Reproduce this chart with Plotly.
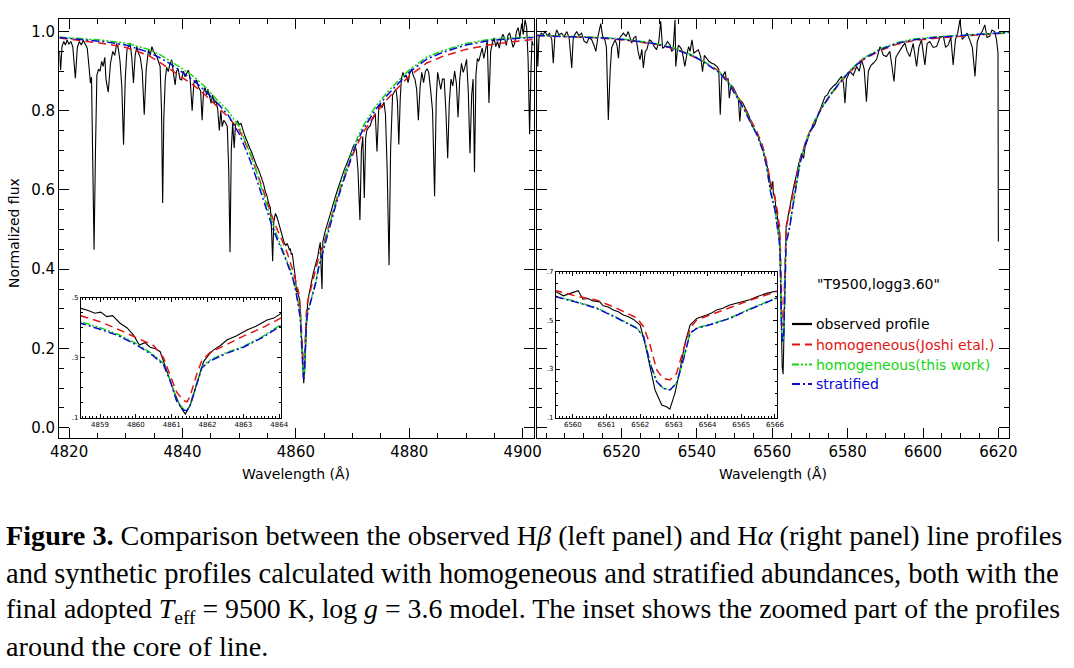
import plotly.graph_objects as go

# ---------------------------------------------------------------------------
# data (wavelength in Angstrom, normalized flux)
# ---------------------------------------------------------------------------

# H-beta, observed profile
hb_observed = [
    (4818.30, 0.950), (4818.50, 0.903), (4818.75, 0.962), (4819.05, 0.975),
    (4819.35, 0.966), (4819.65, 0.979), (4819.95, 0.968), (4820.30, 0.975),
    (4820.65, 0.962), (4821.10, 0.882), (4821.45, 0.960), (4821.80, 0.975),
    (4822.15, 0.966), (4822.50, 0.978), (4822.85, 0.968), (4823.20, 0.958),
    (4823.55, 0.905), (4823.75, 0.870), (4823.95, 0.885), (4824.15, 0.700),
    (4824.40, 0.449), (4824.65, 0.700), (4824.90, 0.890), (4825.20, 0.905),
    (4825.45, 0.900), (4825.75, 0.925), (4826.00, 0.912), (4826.30, 0.935),
    (4826.50, 0.880), (4826.90, 0.847), (4827.30, 0.920), (4827.70, 0.950),
    (4828.05, 0.940), (4828.40, 0.970), (4828.70, 0.955), (4828.98, 0.925),
    (4829.30, 0.860), (4829.60, 0.714), (4829.90, 0.880), (4830.20, 0.954),
    (4830.50, 0.962), (4830.75, 0.971), (4831.05, 0.935), (4831.35, 0.870),
    (4831.65, 0.940), (4831.95, 0.962), (4832.25, 0.945), (4832.55, 0.935),
    (4832.90, 0.900), (4833.25, 0.790), (4833.60, 0.905), (4834.00, 0.954),
    (4834.30, 0.940), (4834.60, 0.962), (4834.95, 0.948), (4835.45, 0.937),
    (4835.75, 0.925), (4836.05, 0.912), (4836.30, 0.800), (4836.50, 0.567),
    (4836.70, 0.780), (4836.95, 0.877), (4837.20, 0.910), (4837.50, 0.899),
    (4837.80, 0.920), (4838.10, 0.929), (4838.40, 0.895), (4838.70, 0.865),
    (4838.95, 0.900), (4839.25, 0.905), (4839.55, 0.880), (4839.85, 0.878),
    (4840.15, 0.900), (4840.45, 0.886), (4840.75, 0.895), (4841.05, 0.903),
    (4841.35, 0.880), (4841.70, 0.800), (4842.00, 0.870), (4842.50, 0.878),
    (4842.80, 0.860), (4843.20, 0.850), (4843.46, 0.776), (4843.70, 0.845),
    (4844.00, 0.860), (4844.25, 0.840), (4844.50, 0.855), (4844.80, 0.830),
    (4845.05, 0.819), (4845.30, 0.840), (4845.60, 0.820), (4845.90, 0.825),
    (4846.20, 0.805), (4846.50, 0.750), (4846.75, 0.800), (4847.00, 0.760),
    (4847.28, 0.776), (4847.60, 0.770), (4847.90, 0.760), (4848.15, 0.650),
    (4848.38, 0.443), (4848.60, 0.700), (4848.85, 0.770), (4849.11, 0.706),
    (4849.35, 0.765), (4849.70, 0.775), (4850.00, 0.765), (4850.32, 0.768),
    (4850.65, 0.748), (4850.95, 0.738), (4851.25, 0.728), (4851.53, 0.716),
    (4851.85, 0.706), (4852.15, 0.697), (4852.45, 0.684), (4852.75, 0.672),
    (4853.05, 0.662), (4853.40, 0.652), (4853.70, 0.640), (4853.97, 0.630),
    (4854.30, 0.615), (4854.60, 0.596), (4854.90, 0.585), (4855.18, 0.567),
    (4855.50, 0.555), (4855.70, 0.500), (4855.90, 0.420), (4856.10, 0.520),
    (4856.40, 0.541), (4856.70, 0.530), (4857.00, 0.515), (4857.35, 0.495),
    (4857.62, 0.480), (4857.90, 0.468), (4858.22, 0.460), (4858.46, 0.465),
    (4858.65, 0.458), (4858.86, 0.448), (4859.02, 0.452), (4859.19, 0.437),
    (4859.35, 0.440), (4859.56, 0.415), (4859.75, 0.400), (4859.93, 0.376),
    (4860.10, 0.342), (4860.25, 0.350), (4860.40, 0.335), (4860.55, 0.330),
    (4860.68, 0.320), (4860.86, 0.259), (4861.05, 0.192), (4861.24, 0.137),
    (4861.38, 0.112), (4861.52, 0.142), (4861.70, 0.215), (4861.89, 0.287),
    (4862.05, 0.312), (4862.17, 0.326), (4862.35, 0.340), (4862.54, 0.359),
    (4862.80, 0.372), (4863.10, 0.392), (4863.35, 0.405), (4863.66, 0.426),
    (4863.85, 0.432), (4864.03, 0.448), (4864.30, 0.468), (4864.45, 0.400),
    (4864.60, 0.350), (4864.75, 0.470), (4864.90, 0.482), (4865.20, 0.498),
    (4865.50, 0.512), (4865.80, 0.528), (4866.12, 0.545), (4866.45, 0.560),
    (4866.72, 0.574), (4867.00, 0.585), (4867.33, 0.600), (4867.65, 0.615),
    (4867.95, 0.628), (4868.25, 0.640), (4868.55, 0.652), (4868.85, 0.662),
    (4869.15, 0.672), (4869.45, 0.683), (4869.75, 0.695), (4870.05, 0.708),
    (4870.35, 0.716), (4870.67, 0.700), (4870.95, 0.650), (4871.29, 0.524),
    (4871.55, 0.700), (4871.80, 0.735), (4872.06, 0.580), (4872.30, 0.730),
    (4872.49, 0.750), (4872.80, 0.758), (4873.10, 0.762), (4873.40, 0.776),
    (4873.70, 0.782), (4874.00, 0.793), (4874.30, 0.697), (4874.62, 0.810),
    (4874.90, 0.815), (4875.20, 0.808), (4875.53, 0.822), (4875.80, 0.790),
    (4876.10, 0.650), (4876.43, 0.410), (4876.70, 0.700), (4877.05, 0.840),
    (4877.35, 0.848), (4877.65, 0.855), (4877.90, 0.825), (4878.15, 0.715),
    (4878.40, 0.830), (4878.60, 0.880), (4878.87, 0.897), (4879.15, 0.885),
    (4879.45, 0.890), (4879.79, 0.871), (4880.10, 0.895), (4880.40, 0.906),
    (4880.69, 0.889), (4881.00, 0.880), (4881.30, 0.854), (4881.60, 0.776),
    (4881.90, 0.860), (4882.20, 0.897), (4882.52, 0.871), (4882.85, 0.900),
    (4883.15, 0.906), (4883.42, 0.897), (4883.75, 0.854), (4884.10, 0.800),
    (4884.46, 0.584), (4884.75, 0.830), (4885.00, 0.897), (4885.24, 0.880),
    (4885.55, 0.854), (4885.85, 0.880), (4886.15, 0.880), (4886.45, 0.800),
    (4886.77, 0.680), (4887.05, 0.820), (4887.35, 0.880), (4887.67, 0.863),
    (4888.00, 0.900), (4888.30, 0.870), (4888.59, 0.784), (4888.90, 0.880),
    (4889.20, 0.920), (4889.50, 0.897), (4889.80, 0.910), (4890.10, 0.930),
    (4890.40, 0.850), (4890.70, 0.693), (4891.00, 0.840), (4891.25, 0.880),
    (4891.50, 0.645), (4891.75, 0.890), (4892.00, 0.932), (4892.24, 0.925),
    (4892.55, 0.945), (4892.85, 0.958), (4893.14, 0.932), (4893.45, 0.960),
    (4893.75, 0.976), (4894.05, 0.820), (4894.35, 0.950), (4894.65, 0.971),
    (4894.95, 0.984), (4895.25, 0.962), (4895.55, 0.975), (4895.87, 0.958),
    (4896.15, 0.980), (4896.50, 0.993), (4896.79, 0.984), (4897.10, 0.965),
    (4897.40, 0.990), (4897.69, 0.997), (4898.00, 0.980), (4898.30, 0.960),
    (4898.60, 0.971), (4898.90, 1.000), (4899.20, 1.010), (4899.50, 0.985),
    (4899.82, 1.020), (4900.10, 0.993), (4900.42, 1.030), (4900.70, 1.010),
    (4900.95, 0.930), (4901.22, 0.741), (4901.45, 0.900), (4901.64, 0.976),
    (4901.90, 0.965),
]

# H-beta, synthetic profiles
hb_model_wl = [4818.3, 4822, 4826, 4830, 4834, 4836, 4838, 4840, 4842, 4844,
               4846, 4848, 4850, 4851, 4852, 4853, 4854, 4855, 4856, 4857,
               4857.5, 4858.5, 4859.0, 4859.5, 4860.0, 4860.3, 4860.5,
               4860.77, 4860.96, 4861.14, 4861.33, 4861.43, 4861.51, 4861.70,
               4861.84, 4862.07, 4862.5, 4863.0, 4863.5, 4864.03, 4865, 4866,
               4867, 4868, 4869, 4870, 4871, 4872, 4874, 4876, 4878, 4880,
               4883, 4886, 4890, 4894, 4898, 4901.9]
hb_joshi = [0.984, 0.978, 0.970, 0.960, 0.940, 0.922, 0.902, 0.884, 0.864,
            0.840, 0.812, 0.785, 0.752, 0.722, 0.690, 0.650, 0.608, 0.565,
            0.525, 0.490, 0.475, 0.440, 0.420, 0.395, 0.368, 0.352, 0.340,
            0.300, 0.240, 0.185, 0.157, 0.153, 0.170, 0.245, 0.290, 0.318,
            0.342, 0.372, 0.398, 0.431, 0.470, 0.520, 0.567, 0.610, 0.650,
            0.688, 0.720, 0.748, 0.792, 0.828, 0.858, 0.888, 0.920, 0.938,
            0.955, 0.966, 0.974, 0.980]
hb_this_work = [0.986, 0.983, 0.978, 0.971, 0.955, 0.942, 0.925, 0.906, 0.886,
                0.860, 0.829, 0.800, 0.760, 0.727, 0.690, 0.648, 0.603, 0.556,
                0.510, 0.472, 0.455, 0.420, 0.400, 0.378, 0.348, 0.325, 0.309,
                0.281, 0.226, 0.159, 0.128, 0.127, 0.142, 0.215, 0.270, 0.292,
                0.316, 0.337, 0.368, 0.409, 0.462, 0.520, 0.570, 0.617, 0.660,
                0.700, 0.737, 0.765, 0.810, 0.845, 0.875, 0.903, 0.935, 0.952,
                0.970, 0.980, 0.984, 0.986]
hb_stratified = [0.985, 0.981, 0.975, 0.966, 0.948, 0.934, 0.917, 0.897,
                 0.876, 0.850, 0.822, 0.790, 0.742, 0.708, 0.672, 0.630,
                 0.586, 0.542, 0.500, 0.465, 0.450, 0.414, 0.395, 0.374,
                 0.344, 0.321, 0.305, 0.277, 0.222, 0.155, 0.125, 0.124,
                 0.139, 0.212, 0.266, 0.289, 0.313, 0.335, 0.365, 0.405,
                 0.455, 0.510, 0.560, 0.605, 0.647, 0.693, 0.728, 0.757,
                 0.802, 0.838, 0.868, 0.897, 0.930, 0.948, 0.966, 0.977,
                 0.982, 0.985]

# H-alpha, observed profile
ha_observed = [
    (6497.5, 0.990), (6497.8, 0.912), (6498.1, 0.985), (6498.7, 0.996),
    (6499.2, 0.992), (6499.7, 1.000), (6500.3, 0.990), (6500.9, 0.996),
    (6501.5, 0.980), (6501.9, 0.920), (6502.3, 0.985), (6502.8, 1.004),
    (6503.4, 0.992), (6504.1, 0.996), (6504.8, 0.988), (6505.5, 1.000),
    (6506.1, 0.985), (6506.8, 0.908), (6507.2, 0.985), (6508.1, 1.000),
    (6508.7, 0.990), (6509.4, 0.996), (6510.1, 0.975), (6510.8, 0.971),
    (6511.4, 0.985), (6512.1, 0.979), (6512.7, 0.965), (6513.2, 0.950),
    (6513.8, 0.990), (6514.5, 1.020), (6515.0, 0.988), (6515.6, 0.979),
    (6516.0, 0.960), (6516.5, 0.777), (6517.0, 0.903), (6517.4, 0.960),
    (6518.3, 0.979), (6518.8, 0.966), (6519.2, 0.933), (6519.6, 0.985),
    (6520.5, 0.996), (6521.2, 0.988), (6521.8, 1.000), (6522.7, 0.971),
    (6523.3, 0.985), (6523.8, 0.988), (6524.4, 0.950), (6524.9, 0.929),
    (6525.4, 0.955), (6525.8, 0.908), (6526.3, 0.950), (6526.7, 0.954),
    (6527.4, 0.979), (6528.0, 0.975), (6528.7, 0.962), (6529.3, 0.954),
    (6529.9, 0.975), (6530.4, 1.026), (6530.9, 0.958), (6531.5, 0.962),
    (6532.2, 0.975), (6532.9, 0.966), (6533.3, 0.950), (6533.7, 0.954),
    (6534.2, 1.030), (6534.4, 0.912), (6534.8, 0.950), (6535.1, 0.966),
    (6535.6, 0.960), (6536.0, 0.954), (6536.4, 0.935), (6536.8, 0.912),
    (6537.3, 0.940), (6537.8, 0.962), (6538.2, 0.950), (6538.7, 0.979),
    (6539.2, 0.946), (6539.8, 0.950), (6540.4, 0.954), (6541.0, 0.937),
    (6541.5, 0.899), (6542.0, 0.940), (6542.6, 0.933), (6543.2, 0.925),
    (6543.9, 0.920), (6544.5, 0.918), (6545.3, 0.912), (6545.8, 0.905),
    (6546.2, 0.790), (6546.6, 0.885), (6547.0, 0.890), (6547.5, 0.899),
    (6547.9, 0.875), (6548.3, 0.882), (6548.6, 0.832), (6549.1, 0.865),
    (6549.7, 0.858), (6550.1, 0.850), (6550.6, 0.840), (6551.0, 0.832),
    (6551.4, 0.773), (6551.8, 0.825), (6552.3, 0.818), (6552.8, 0.805),
    (6553.2, 0.800), (6553.8, 0.788), (6554.2, 0.775), (6554.5, 0.765),
    (6555.1, 0.755), (6555.5, 0.748), (6555.9, 0.745), (6556.3, 0.735),
    (6556.7, 0.725), (6557.1, 0.712), (6557.6, 0.700), (6558.0, 0.685),
    (6558.5, 0.668), (6558.9, 0.650), (6559.2, 0.635), (6559.50, 0.618),
    (6559.72, 0.601), (6559.97, 0.613), (6560.16, 0.622), (6560.30, 0.587),
    (6560.45, 0.590), (6560.60, 0.580), (6560.80, 0.576), (6560.90, 0.560),
    (6561.05, 0.555), (6561.20, 0.543), (6561.35, 0.535), (6561.50, 0.522),
    (6561.65, 0.515), (6561.80, 0.504), (6562.00, 0.481), (6562.14, 0.406),
    (6562.29, 0.310), (6562.44, 0.214), (6562.64, 0.152), (6562.78, 0.145),
    (6562.88, 0.135), (6563.03, 0.200), (6563.18, 0.296), (6563.33, 0.406),
    (6563.48, 0.481), (6563.68, 0.508), (6563.97, 0.522), (6564.12, 0.530),
    (6564.27, 0.543), (6564.45, 0.550), (6564.66, 0.563), (6564.85, 0.570),
    (6565.06, 0.577), (6565.25, 0.585), (6565.46, 0.597), (6565.75, 0.611),
    (6566.05, 0.621), (6566.5, 0.642), (6567.0, 0.665), (6567.8, 0.693),
    (6568.3, 0.680), (6568.7, 0.709), (6569.3, 0.725), (6570.0, 0.748),
    (6570.6, 0.755), (6571.3, 0.765), (6572.0, 0.785), (6572.7, 0.802),
    (6573.3, 0.815), (6574.0, 0.836), (6574.6, 0.840), (6575.3, 0.853),
    (6576.2, 0.862), (6577.1, 0.870), (6577.8, 0.880), (6578.4, 0.887),
    (6578.9, 0.870), (6579.3, 0.819), (6579.7, 0.880), (6580.6, 0.899),
    (6581.5, 0.890), (6582.4, 0.912), (6583.1, 0.900), (6583.7, 0.929),
    (6584.4, 0.905), (6585.0, 0.823), (6585.5, 0.900), (6586.2, 0.915),
    (6586.8, 0.920), (6587.7, 0.930), (6588.6, 0.962), (6589.5, 0.940),
    (6590.3, 0.937), (6591.2, 0.950), (6591.8, 0.910), (6592.3, 0.874),
    (6592.8, 0.935), (6593.9, 0.954), (6594.5, 0.962), (6595.2, 0.971),
    (6595.8, 0.950), (6596.5, 0.937), (6597.4, 0.970), (6598.3, 0.912),
    (6598.9, 0.960), (6599.6, 0.979), (6600.1, 0.950), (6600.5, 0.916),
    (6601.1, 0.970), (6601.8, 0.975), (6602.7, 0.960), (6603.6, 0.962),
    (6604.5, 0.985), (6605.4, 0.988), (6606.0, 0.960), (6606.7, 0.966),
    (6607.4, 0.985), (6608.0, 0.916), (6608.6, 0.980), (6609.2, 0.996),
    (6609.8, 1.030), (6610.4, 0.980), (6611.1, 0.988), (6611.7, 0.996),
    (6612.4, 0.979), (6613.1, 0.960), (6613.8, 0.887), (6614.4, 0.975),
    (6615.1, 0.992), (6615.7, 1.000), (6616.4, 1.017), (6617.0, 0.985),
    (6617.7, 0.988), (6618.3, 1.004), (6619.0, 1.000), (6619.5, 0.980),
    (6619.9, 0.946), (6620.0, 0.470),
]

# H-alpha, synthetic profiles
ha_model_wl = [6497.5, 6505, 6512, 6517, 6523, 6529, 6533, 6536, 6539, 6541.5,
               6544, 6546, 6548.5, 6550.5, 6552.3, 6554, 6555.9, 6557.5,
               6558.5, 6559.5, 6560.1, 6560.7, 6561.3, 6561.9, 6562.1,
               6562.29, 6562.49, 6562.68, 6562.88, 6563.08, 6563.28, 6563.48,
               6563.68, 6564.2, 6564.66, 6565.3, 6566.05, 6567.3, 6569,
               6570.9, 6573, 6575.3, 6578, 6580.6, 6584, 6588.6, 6593, 6597.4,
               6604, 6610.2, 6616, 6622.9]
ha_joshi = [0.990, 0.988, 0.985, 0.982, 0.976, 0.968, 0.959, 0.950, 0.938,
            0.926, 0.912, 0.899, 0.872, 0.843, 0.814, 0.782, 0.748, 0.710,
            0.672, 0.622, 0.600, 0.584, 0.550, 0.510, 0.474, 0.400, 0.296,
            0.262, 0.255, 0.282, 0.378, 0.467, 0.502, 0.528, 0.550, 0.585,
            0.618, 0.672, 0.727, 0.768, 0.806, 0.838, 0.871, 0.898, 0.928,
            0.952, 0.968, 0.977, 0.984, 0.988, 0.993, 0.997]
ha_this_work = [0.991, 0.989, 0.987, 0.984, 0.978, 0.970, 0.962, 0.952, 0.940,
                0.927, 0.912, 0.898, 0.870, 0.840, 0.810, 0.777, 0.742, 0.702,
                0.662, 0.599, 0.577, 0.552, 0.512, 0.469, 0.435, 0.326, 0.250,
                0.222, 0.215, 0.242, 0.339, 0.449, 0.469, 0.489, 0.510, 0.550,
                0.593, 0.667, 0.724, 0.767, 0.807, 0.840, 0.874, 0.902, 0.932,
                0.956, 0.972, 0.981, 0.987, 0.991, 0.995, 0.998]
ha_stratified = [0.990, 0.988, 0.986, 0.983, 0.977, 0.969, 0.960, 0.950,
                 0.938, 0.925, 0.910, 0.896, 0.868, 0.838, 0.808, 0.775,
                 0.740, 0.700, 0.660, 0.597, 0.575, 0.550, 0.510, 0.467,
                 0.433, 0.324, 0.248, 0.221, 0.214, 0.241, 0.337, 0.447,
                 0.467, 0.487, 0.508, 0.548, 0.591, 0.665, 0.722, 0.765,
                 0.805, 0.838, 0.872, 0.900, 0.930, 0.954, 0.970, 0.979,
                 0.986, 0.990, 0.994, 0.998]

# axis ticks and texts
hb_ticks = [4820, 4840, 4860, 4880, 4900]
ha_ticks = [6520, 6540, 6560, 6580, 6600, 6620]
flux_ticks = [0.0, 0.2, 0.4, 0.6, 0.8, 1.0]
hb_inset_ticks = [4859, 4860, 4861, 4862, 4863, 4864]
ha_inset_ticks = [6560, 6561, 6562, 6563, 6564, 6565, 6566]
hb_inset_yticks = [0.1, 0.3, 0.5]
ha_inset_yticks = [0.1, 0.3, 0.5, 0.7]
legend_names = ['observed profile', 'homogeneous(Joshi etal.)',
                'homogeneous(this work)', 'stratified']
model_label = '"T9500,logg3.60"'
caption_lines = [
    '<b>Figure 3.</b> Comparison between the observed H<i>β</i> (left panel) '
    'and H<i>α</i> (right panel) line profiles',
    'and synthetic profiles calculated with homogeneous and stratified '
    'abundances, both with the',
    'final adopted <i>T</i><sub>eff</sub> = 9500 K, log <i>g</i> = 3.6 model. '
    'The inset shows the zoomed part of the profiles',
    'around the core of line.',
]

# ---------------------------------------------------------------------------
W, H = 1074, 668
IDL_FONT = 'DejaVu Sans'
COLORS = ['black', 'rgb(228,20,20)', 'rgb(20,215,20)', 'rgb(10,10,215)']
DASHES = ['solid', '8px,5px', '7px,2px,2px,2px,2px,2px', '8px,3px,2px,3px']
WIDTHS = [1.1, 1.5, 1.5, 1.5]


def px(x):
    return x / W


def py(y):
    return 1 - y / H


def add_profiles(fig, observed, model_wl, models, xref, yref):
    wl = [p[0] for p in observed]
    flux = [p[1] for p in observed]
    fig.add_trace(go.Scatter(x=wl, y=flux, mode='lines', xaxis=xref,
                             yaxis=yref, showlegend=False, hoverinfo='skip',
                             line=dict(color=COLORS[0], width=WIDTHS[0])))
    for i, model in enumerate(models, start=1):
        fig.add_trace(go.Scatter(x=model_wl, y=model, mode='lines',
                                 xaxis=xref, yaxis=yref, showlegend=False,
                                 hoverinfo='skip',
                                 line=dict(color=COLORS[i], width=WIDTHS[i],
                                           dash=DASHES[i])))


fig = go.Figure()
hb_models = [hb_joshi, hb_this_work, hb_stratified]
ha_models = [ha_joshi, ha_this_work, ha_stratified]
add_profiles(fig, hb_observed, hb_model_wl, hb_models, 'x', 'y')
add_profiles(fig, ha_observed, ha_model_wl, ha_models, 'x2', 'y2')
add_profiles(fig, hb_observed, hb_model_wl, hb_models, 'x3', 'y3')
add_profiles(fig, ha_observed, ha_model_wl, ha_models, 'x4', 'y4')

main_axis = dict(showline=True, linecolor='black', linewidth=1.3,
                 mirror='ticks', ticks='inside', ticklen=10, tickwidth=1.2,
                 tickcolor='black', showgrid=False, zeroline=False,
                 automargin=False,
                 tickfont=dict(family=IDL_FONT, size=15, color='black'),
                 minor=dict(ticks='inside', ticklen=5, tickwidth=1,
                            tickcolor='black', showgrid=False))
inset_axis = dict(showline=True, linecolor='black', linewidth=1.1,
                  mirror='ticks', ticks='inside', ticklen=4, tickwidth=1,
                  tickcolor='black', showgrid=False, zeroline=False,
                  automargin=False,
                  tickfont=dict(family=IDL_FONT, size=7, color='black'),
                  minor=dict(ticks='inside', ticklen=2, tickwidth=0.8,
                             tickcolor='black', showgrid=False))

main_y_domain = [py(438.3), py(19.3)]
inset_bottom = py(417.7)

fig.update_layout(
    width=W, height=H,
    margin=dict(l=0, r=0, t=0, b=0),
    paper_bgcolor='white', plot_bgcolor='rgba(0,0,0,0)',
    showlegend=False,
    xaxis=dict(main_axis, domain=[px(59.3), px(533.7)],
               range=[4818.27, 4901.94], tickvals=hb_ticks,
               minor_dtick=5, anchor='y'),
    yaxis=dict(main_axis, domain=main_y_domain, range=[-0.027, 1.031],
               tickvals=flux_ticks, tickformat='.1f', minor_dtick=0.05,
               anchor='x'),
    xaxis2=dict(main_axis, domain=[px(536.7), px(1009.3)],
                range=[6497.5, 6622.9], tickvals=ha_ticks,
                minor_dtick=5, anchor='y2'),
    yaxis2=dict(main_axis, domain=main_y_domain, range=[-0.027, 1.031],
                tickvals=flux_ticks, showticklabels=False,
                minor_dtick=0.05, anchor='x2'),
    xaxis3=dict(inset_axis, domain=[px(81), px(281)],
                range=[4858.47, 4864.05], tickvals=hb_inset_ticks,
                minor_dtick=0.1, anchor='y3'),
    yaxis3=dict(inset_axis, domain=[inset_bottom, py(297.7)],
                range=[0.1, 0.5], tickvals=hb_inset_yticks,
                ticktext=['.1', '.3', '.5'], minor_dtick=0.05, anchor='x3'),
    xaxis4=dict(inset_axis, domain=[px(556), px(777.3)],
                range=[6559.5, 6566.07], tickvals=ha_inset_ticks,
                minor_dtick=0.1, anchor='y4'),
    yaxis4=dict(inset_axis, domain=[inset_bottom, py(271.7)],
                range=[0.1, 0.7], tickvals=ha_inset_yticks,
                ticktext=['.1', '.3', '.5', '.7'], minor_dtick=0.05,
                anchor='x4'),
)

# axis titles
axis_font = dict(family=IDL_FONT, size=14, color='black')
annotations = [
    dict(text='Wavelength (Å)', x=px(296.5), y=py(474), font=axis_font),
    dict(text='Wavelength (Å)', x=px(773), y=py(474), font=axis_font),
    dict(text='Normalized flux', x=px(14), y=py(233), textangle=-90,
         font=axis_font),
    dict(text=model_label, x=px(815), y=py(284), xanchor='left',
         font=dict(family=IDL_FONT, size=14, color='black')),
]

# legend drawn inside the H-alpha panel
shapes = []
row_y = [324, 344.5, 364.5, 384]
for i, name in enumerate(legend_names):
    shapes.append(dict(type='line', xref='paper', yref='paper',
                       x0=px(792), x1=px(812), y0=py(row_y[i]),
                       y1=py(row_y[i]),
                       line=dict(color=COLORS[i], width=2.2,
                                 dash=DASHES[i])))
    annotations.append(dict(text=name, x=px(814), y=py(row_y[i]),
                            xanchor='left',
                            font=dict(family=IDL_FONT, size=14,
                                      color=COLORS[i])))

# figure caption (sizes chosen so the justified lines fill the width)
caption_y = [535, 573, 610, 646]
caption_size = [28.2, 28.5, 27.8, 28.2]
for text, y, size in zip(caption_lines, caption_y, caption_size):
    annotations.append(dict(text=text, x=px(4), y=py(y), xanchor='left',
                            font=dict(family='Liberation Serif', size=size,
                                      color='black')))

for a in annotations:
    a.setdefault('xref', 'paper')
    a.setdefault('yref', 'paper')
    a.setdefault('showarrow', False)
    a.setdefault('yanchor', 'middle')
    a.setdefault('xanchor', 'center')

fig.update_layout(annotations=annotations, shapes=shapes)

fig.write_html("out.html", config={'displayModeBar': False},
               post_script="document.body.style.margin = '0';")
